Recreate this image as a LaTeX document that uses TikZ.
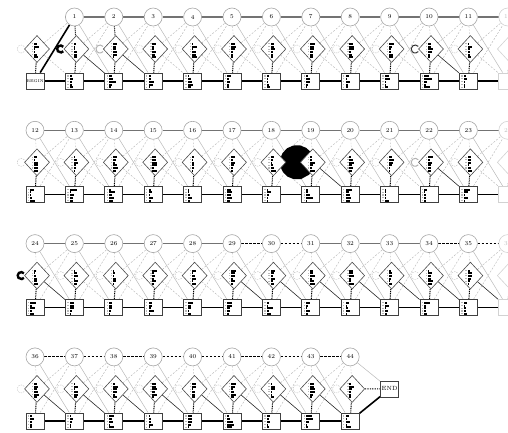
\documentclass[tikz,border=0pt]{standalone}
\usetikzlibrary{shapes.geometric,backgrounds,calc}
\begin{document}
\begin{tikzpicture}[x=1pt, y=1pt,
  delstate/.style={circle, draw=gray!70, fill=white, line width=0.6pt, minimum size=18pt, inner sep=0pt, font=\fontsize{6}{6}\selectfont},
  insstate/.style={diamond, draw=gray!60!black, fill=white, line width=0.6pt, minimum width=25pt, minimum height=27pt, inner sep=0pt},
  matstate/.style={rectangle, draw=black!75, fill=white, line width=0.8pt, minimum width=18pt, minimum height=16pt, inner sep=0pt},
  faded/.style={draw=gray!35, text=gray!50},
  m2m/.style={line width=1.6pt, black},
  d2d/.style={line width=1.2pt, black!55},
  d2dlow/.style={line width=0.9pt, black, dash pattern=on 2.5pt off 1.5pt},
  d2m/.style={line width=0.5pt, gray!55},
  m2d/.style={line width=0.45pt, gray!55, dash pattern=on 2pt off 1.5pt},
  i2d/.style={line width=0.45pt, gray!55, dash pattern=on 2pt off 1.5pt},
  i2mlo/.style={line width=0.45pt, gray!55, dash pattern=on 2pt off 1.5pt},
  i2mhi/.style={line width=0.6pt, black!85},
  m2i/.style={line width=1pt, black, dash pattern=on 1pt off 0.8pt},
  d2ihi/.style={line width=1pt, black, dash pattern=on 1pt off 1pt},
  d2ilo/.style={line width=0.4pt, gray!50, dash pattern=on 1.5pt off 1.5pt},
  loopfaint/.style={line width=0.4pt, gray!50, dash pattern=on 1.5pt off 1pt},
  loopbold/.style={line width=2.4pt, black},
  loopgray/.style={line width=1pt, gray!60},
  loopdark/.style={line width=1pt, gray!40!black},
  loopblob/.style={line width=17pt, black},
  endlink/.style={line width=1.1pt, black, dash pattern=on 1.2pt off 1.2pt},
  glyphbar/.style={fill=black},
  glyphtag/.style={fill=gray!55}
]
\useasboundingbox (0,0) rectangle (508,432);
\pgfmathsetseed{5}

% states, column by column
\foreach \r/\last in {0/12,1/12,2/12,3/8}{
  \pgfmathsetmacro\cy{415-113.3*\r}
  \foreach \k in {0,...,\last}{
    \pgfmathsetmacro\x{35+39.4*\k}
    \pgfmathtruncatemacro\n{12*\r+\k}
    \ifnum\k=12 \tikzset{fd/.style=faded}\else\tikzset{fd/.style={}}\fi
    \ifnum\n>0
      \node[delstate, fd] (d-\r-\k) at (\x,\cy) {\n};
      \node[matstate, fd] (m-\r-\k) at (\x,\cy-64) {};
    \else
      \node[matstate, font=\fontsize{4}{4}\selectfont] (m-\r-\k) at (\x,\cy-64) {BEGIN};
    \fi
    \node[insstate, fd] (i-\r-\k) at (\x+2,\cy-32) {};
    \ifnum\k<12
      \foreach \j in {0,...,5}{
        \pgfmathsetmacro\w{1+4*rnd}
        \fill[glyphtag] ($(i-\r-\k)+(-5,5.8-2.7*\j)$) rectangle ++(1.4,-1.2);
        \fill[glyphbar] ($(i-\r-\k)+(-2.8,6-2.7*\j)$) rectangle ++(\w,-2);
      }
      \ifnum\n>0
        \foreach \j in {0,...,4}{
          \pgfmathsetmacro\w{1+8*rnd*rnd}
          \fill[glyphtag] ($(m-\r-\k)+(-7.2,5.6-2.8*\j)$) rectangle ++(1.4,-1.2);
          \fill[glyphbar] ($(m-\r-\k)+(-4.6,5.8-2.8*\j)$) rectangle ++(\w,-2);
        }
      \fi
    \fi
  }
}
\node[matstate, font=\fontsize{6}{6}\selectfont] (end) at (389.6,43.1) {END};

\begin{pgfonlayer}{background}
% transitions to the next column
\foreach \r/\last in {0/12,1/12,2/12,3/8}{
  \pgfmathtruncatemacro\lastm{\last-1}
  \foreach \k in {0,...,\lastm}{
    \pgfmathtruncatemacro\kk{\k+1}
    \pgfmathtruncatemacro\n{12*\r+\k}
    \pgfmathtruncatemacro\isdash{(\r==3)||(\n==29)||(\n==30)||(\n==34)||(\n==35)}
    \pgfmathtruncatemacro\ishi{(\n==1)||(\n==2)||(\n==10)||(\n==19)||(\n==22)||(\n==24)||((\n>28)&&(\n<44))}
    \ifnum\isdash=1 \tikzset{d2dsel/.style=d2dlow}\else\tikzset{d2dsel/.style=d2d}\fi
    \ifnum\ishi=1 \tikzset{i2msel/.style=i2mhi}\else\tikzset{i2msel/.style=i2mlo}\fi
    \draw[m2m] (m-\r-\k) -- (m-\r-\kk);
    \ifnum\n=0
      \draw[m2m] (m-0-0) -- (d-0-1);
    \else
      \draw[d2dsel] (d-\r-\k) -- (d-\r-\kk);
      \draw[d2m] (d-\r-\k) -- (m-\r-\kk);
      \draw[m2d] (m-\r-\k) -- (d-\r-\kk);
    \fi
    \draw[i2d] (i-\r-\k) -- (d-\r-\kk);
    \draw[i2msel] (i-\r-\k) -- (m-\r-\kk);
  }
  % within a column: to the insert state, and its self-loop
  \foreach \k in {0,...,\last}{
    \pgfmathtruncatemacro\n{12*\r+\k}
    \draw[m2i] (m-\r-\k) -- (i-\r-\k);
    \ifnum\n>0
      \pgfmathtruncatemacro\dihi{(\n==1)||(\n==2)}
      \ifnum\dihi=1 \tikzset{d2isel/.style=d2ihi}\else\tikzset{d2isel/.style=d2ilo}\fi
      \draw[d2isel] (d-\r-\k) -- (i-\r-\k);
    \fi
    \ifnum\k<12
      \def\lr{4}\def\la{40}
      \tikzset{lsel/.style=loopfaint}
      \ifnum\n=1 \tikzset{lsel/.style=loopbold}\def\lr{3.5}\fi
      \ifnum\n=24 \tikzset{lsel/.style=loopbold}\def\lr{3.5}\fi
      \ifnum\n=2 \tikzset{lsel/.style=loopgray}\fi
      \ifnum\n=22 \tikzset{lsel/.style=loopgray}\fi
      \ifnum\n=10 \tikzset{lsel/.style=loopdark}\fi
      \ifnum\n=19 \tikzset{lsel/.style=loopblob}\def\lr{8.5}\def\la{12}\fi
      \draw[lsel] ($(i-\r-\k.west)+(-3,0)+(\la:\lr pt)$) arc[start angle=\la, end angle=360-\la, radius=\lr pt];
    \fi
  }
}
\draw[d2m] (d-3-8) -- (end);
\draw[endlink] (i-3-8) -- (end);
\draw[m2m] (m-3-8) -- (end);
\end{pgfonlayer}
\end{tikzpicture}
\end{document}
